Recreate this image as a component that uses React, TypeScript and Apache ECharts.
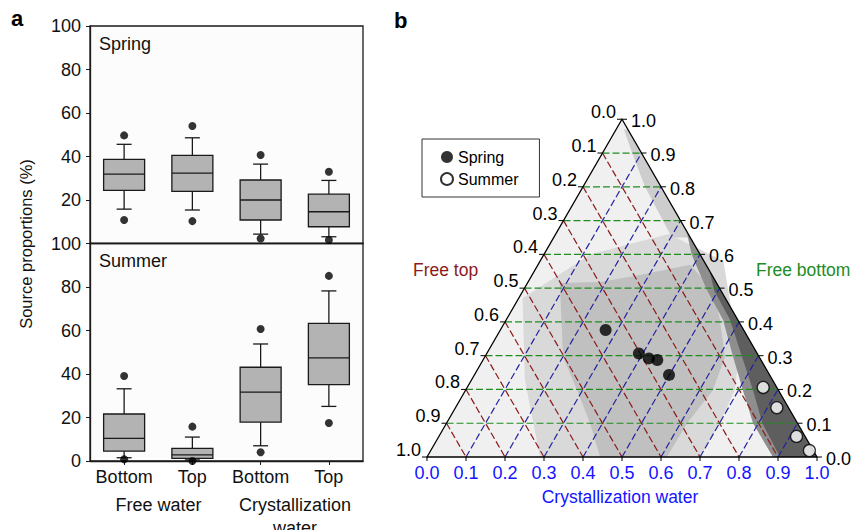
import React, { useEffect, useRef } from 'react';
import * as echarts from 'echarts';

// ---------- Panel a data ----------
const categoryKeys = ['FW-Bottom', 'FW-Top', 'CW-Bottom', 'CW-Top'];
const categoryLabels = ['Bottom', 'Top', 'Bottom', 'Top'];
const groupLabels = ['Free water', 'Crystallization\nwater'];
const yTicksA = [0, 20, 40, 60, 80, 100];
// [lower whisker, Q1, median, Q3, upper whisker]
const springBoxes = [
  [15.8, 24.4, 31.9, 38.7, 45.6],
  [15.4, 24.0, 32.4, 40.5, 48.6],
  [4.3, 10.8, 20.0, 29.2, 36.5],
  [3.1, 7.7, 14.6, 22.7, 29.0],
];
const springOutliers = [
  [0, 49.7], [0, 10.8], [1, 54.0], [1, 10.3], [2, 40.7], [2, 2.3], [3, 33.0], [3, 1.6],
];
const summerBoxes = [
  [1.5, 4.5, 10.4, 21.6, 33.2],
  [0.5, 1.2, 2.8, 5.8, 11.0],
  [7.0, 17.9, 31.7, 43.1, 53.8],
  [25.1, 35.1, 47.4, 63.3, 78.2],
];
const summerOutliers = [
  [0, 39.1], [0, 0.8], [1, 15.8], [1, 0.0], [2, 60.7], [2, 4.0], [3, 85.1], [3, 17.5],
];

// ---------- Panel b data (ternary: [crystallization water, free bottom]) ----------
const springPoints = [
  [0.270, 0.376], [0.390, 0.3065], [0.423, 0.292], [0.447, 0.287], [0.499, 0.243],
];
const summerPoints = [
  [0.759, 0.206], [0.824, 0.146], [0.917, 0.061], [0.971, 0.019],
];
const ternTicks = [0, 0.1, 0.2, 0.3, 0.4, 0.5, 0.6, 0.7, 0.8, 0.9, 1.0];
const ternTickLabels = ['0.0', '0.1', '0.2', '0.3', '0.4', '0.5', '0.6', '0.7', '0.8', '0.9', '1.0'];
const gridLevels = [0.1, 0.2, 0.3, 0.4, 0.5, 0.6, 0.7, 0.8, 0.9];
// density regions of the simulated source-mixing cloud
const cloudBase = [[0, 0], [1, 0], [0, 1]];
const cloudMedium = [
  [0.01, 0.47], [0.137, 0.228], [0.29, 0], [0.70, 0], [0.70, 0.1], [0.69, 0.198],
  [0.65, 0.3], [0.56, 0.44], [0.47, 0.58], [0.29, 0.66], [0.12, 0.60],
];
const cloudDense = [
  [0.083, 0.515], [0.201, 0.296], [0.286, 0.198], [0.368, 0.1], [0.444, 0], [0.615, 0],
  [0.617, 0.1], [0.634, 0.198], [0.616, 0.296], [0.548, 0.406], [0.486, 0.494],
  [0.39, 0.569], [0.276, 0.539], [0.185, 0.518],
];
const cloudEdgeTop = [
  [0.303, 0.65], [0.159, 0.8], [0.076, 0.9], [0.02, 0.97], [0.03, 0.97], [0.1, 0.9],
  [0.2, 0.8], [0.35, 0.65],
];
const cloudDarkOuter = [
  [0.887, 0], [0.786, 0.1], [0.711, 0.198], [0.637, 0.296], [0.556, 0.406], [0.471, 0.494],
  [0.38, 0.598], [0.33, 0.67], [1, 0],
];
const cloudDarkInner = [
  [0.905, 0], [0.81, 0.1], [0.737, 0.198], [0.66, 0.296], [0.574, 0.406], [0.489, 0.494],
  [0.45, 0.55], [1, 0],
];
const cloudRegions = [cloudBase, cloudMedium, cloudDense, cloudEdgeTop, cloudDarkOuter, cloudDarkInner];
const cloudFills = ['#f0f0f0', '#d9d9d9', '#c0c0c0', '#cdcdcd', '#8e8e8e', '#5e5e5e'];

const SQ = Math.sqrt(3) / 2;
const tern = (c: number, b: number) => [c + b / 2, b * SQ];
const FONT = '"Liberation Sans", Arial, Helvetica, sans-serif';

const txt = (text: string, x: number, y: number, size: number, fill: string, align: string, valign: string, extra: any = {}) => ({
  type: 'text',
  x,
  y,
  ...extra,
  style: {
    text,
    fill,
    fontSize: size,
    fontFamily: FONT,
    align,
    verticalAlign: valign,
    textAlign: align,
    textVerticalAlign: valign,
    ...(extra.style || {}),
  },
});

const boxRender = (params: any, api: any) => {
  const i = api.value(0);
  const mn = api.value(1), q1 = api.value(2), md = api.value(3), q3 = api.value(4), mx = api.value(5);
  const xc = api.coord([i, md])[0];
  const y = (v: number) => api.coord([i, v])[1];
  const hw = 20.5, cw = 7.5;
  const ls = { stroke: '#1a1a1a', lineWidth: 1.3 };
  return {
    type: 'group',
    children: [
      { type: 'line', shape: { x1: xc, y1: y(mx), x2: xc, y2: y(q3) }, style: ls },
      { type: 'line', shape: { x1: xc, y1: y(q1), x2: xc, y2: y(mn) }, style: ls },
      { type: 'line', shape: { x1: xc - cw, y1: y(mx), x2: xc + cw, y2: y(mx) }, style: ls },
      { type: 'line', shape: { x1: xc - cw, y1: y(mn), x2: xc + cw, y2: y(mn) }, style: ls },
      {
        type: 'rect',
        shape: { x: xc - hw, y: y(q3), width: 2 * hw, height: y(q1) - y(q3) },
        style: { fill: '#b3b3b3', stroke: '#1a1a1a', lineWidth: 1.3 },
      },
      { type: 'line', shape: { x1: xc - hw, y1: y(md), x2: xc + hw, y2: y(md) }, style: ls },
    ],
  };
};

const boxGridA = (top: number) => ({
  left: 90, top, width: 273, height: 217.5, show: true,
  borderColor: '#1a1a1a', borderWidth: 1.3, backgroundColor: '#fcfcfc',
});

const yAxisA = (gridIndex: number, hideZero: boolean) => ({
  type: 'value', gridIndex, min: yTicksA[0], max: yTicksA[yTicksA.length - 1], interval: 20,
  axisLine: { show: true, lineStyle: { color: '#1a1a1a', width: 1.3 } },
  axisTick: { show: true, length: 4, lineStyle: { color: '#1a1a1a' } },
  axisLabel: {
    fontSize: 18, fontFamily: FONT, color: '#111', margin: 9,
    formatter: (v: number) => (hideZero && v === 0 ? '' : String(v)),
  },
  splitLine: { show: false },
});

const toPx = (api: any, c: number, b: number) => api.coord(tern(c, b));

const option: any = {
  animation: false,
  backgroundColor: '#ffffff',
  legend: {
    data: ['Spring', 'Summer'],
    orient: 'vertical',
    left: 422,
    top: 139,
    padding: [10, 21, 10, 18],
    itemGap: 6,
    itemWidth: 12,
    itemHeight: 12,
    icon: 'circle',
    borderColor: '#333',
    borderWidth: 1,
    backgroundColor: '#fff',
    selectedMode: false,
    textStyle: { fontSize: 16, fontFamily: FONT, color: '#000' },
  },
  grid: [
    boxGridA(26),
    boxGridA(243.5),
    { left: 427, top: 457 - 390 * SQ, width: 390, height: 390 * SQ, show: false },
  ],
  xAxis: [
    {
      type: 'category', gridIndex: 0, data: categoryKeys,
      axisLine: { show: true, lineStyle: { color: '#1a1a1a', width: 1.3 } },
      axisTick: { show: false }, axisLabel: { show: false },
    },
    {
      type: 'category', gridIndex: 1, data: categoryKeys,
      axisLine: { show: true, lineStyle: { color: '#1a1a1a', width: 1.3 } },
      axisTick: { show: true, alignWithLabel: true, length: 4, lineStyle: { color: '#1a1a1a' } },
      axisLabel: {
        fontSize: 18, fontFamily: FONT, color: '#111', margin: 7, interval: 0,
        formatter: (_v: string, i: number) => categoryLabels[i],
      },
    },
    { type: 'value', gridIndex: 2, min: 0, max: 1, show: false },
  ],
  yAxis: [
    yAxisA(0, true),
    yAxisA(1, false),
    { type: 'value', gridIndex: 2, min: 0, max: SQ, show: false },
  ],
  graphic: [
    txt('a', 11, 18, 22, '#000', 'left', 'middle', { style: { fontWeight: 'bold' } }),
    txt('b', 394, 20, 22, '#000', 'left', 'middle', { style: { fontWeight: 'bold' } }),
    txt('Spring', 99, 44, 18, '#111', 'left', 'middle'),
    txt('Summer', 99, 261, 18, '#111', 'left', 'middle'),
    txt('Source proportions (%)', 26, 244, 16.5, '#111', 'center', 'middle', { rotation: Math.PI / 2 }),
    txt(groupLabels[0], 158.5, 505, 18, '#111', 'center', 'middle'),
    txt(groupLabels[1], 295, 516, 18, '#111', 'center', 'middle', { style: { lineHeight: 23 } }),
    txt('Free top', 413, 270, 17.5, '#8b1a1a', 'left', 'middle'),
    txt('Free bottom', 756, 270, 17.5, '#1e8c1e', 'left', 'middle'),
    txt('Crystallization water', 620, 497, 17.5, '#1414ff', 'center', 'middle'),
  ],
  series: [
    {
      type: 'custom', name: 'spring-box', xAxisIndex: 0, yAxisIndex: 0, silent: true,
      encode: { x: 0, y: [1, 2, 3, 4, 5] },
      data: springBoxes.map((b, i) => [i, ...b]),
      renderItem: boxRender,
    },
    {
      type: 'scatter', name: 'spring-outliers', xAxisIndex: 0, yAxisIndex: 0, silent: true,
      symbolSize: 8, itemStyle: { color: '#000' }, data: springOutliers,
    },
    {
      type: 'custom', name: 'summer-box', xAxisIndex: 1, yAxisIndex: 1, silent: true,
      encode: { x: 0, y: [1, 2, 3, 4, 5] },
      data: summerBoxes.map((b, i) => [i, ...b]),
      renderItem: boxRender,
    },
    {
      type: 'scatter', name: 'summer-outliers', xAxisIndex: 1, yAxisIndex: 1, silent: true,
      symbolSize: 8, itemStyle: { color: '#000' }, data: summerOutliers,
    },
    // ternary cloud regions
    {
      type: 'custom', name: 'cloud', xAxisIndex: 2, yAxisIndex: 2, silent: true,
      data: cloudRegions.map((_r, i) => [i, 0]),
      renderItem: (params: any, api: any) => {
        const region = cloudRegions[params.dataIndex];
        return {
          type: 'polygon',
          shape: { points: region.map(([c, b]) => toPx(api, c, b)) },
          style: { fill: cloudFills[params.dataIndex] },
        };
      },
    },
    // ternary dashed grid lines
    {
      type: 'custom', name: 'ternary-grid', xAxisIndex: 2, yAxisIndex: 2, silent: true,
      data: gridLevels.map((k) => [k, 0]),
      renderItem: (params: any, api: any) => {
        const k = gridLevels[params.dataIndex];
        const dash = [7, 3];
        const seg = (p: number[], q: number[], stroke: string) => ({
          type: 'line',
          shape: { x1: p[0], y1: p[1], x2: q[0], y2: q[1] },
          style: { stroke, lineWidth: 1.2, lineDash: dash },
        });
        return {
          type: 'group',
          children: [
            // free top = k (red)
            seg(toPx(api, 0, 1 - k), toPx(api, 1 - k, 0), '#8b1a1a'),
            // crystallization = k (blue)
            seg(toPx(api, k, 0), toPx(api, k, 1 - k), '#2323a0'),
            // free bottom = k (green)
            seg(toPx(api, 0, k), toPx(api, 1 - k, k), '#1e8c1e'),
          ],
        };
      },
    },
    // triangle outline, ticks and tick labels
    {
      type: 'custom', name: 'ternary-axes', xAxisIndex: 2, yAxisIndex: 2, silent: true,
      data: ternTicks.map((k) => [k, 0]),
      renderItem: (params: any, api: any) => {
        const k = ternTicks[params.dataIndex];
        const lab = ternTickLabels[params.dataIndex];
        const L = toPx(api, 0, 1 - k); // left edge: free top = k
        const R = toPx(api, 1 - k, k); // right edge: free bottom = k
        const B = toPx(api, k, 0); // bottom edge: crystallization = k
        const tick = { stroke: '#000', lineWidth: 1 };
        const children: any[] = [
          { type: 'line', shape: { x1: L[0], y1: L[1], x2: L[0] - 5, y2: L[1] }, style: tick },
          { type: 'line', shape: { x1: R[0], y1: R[1], x2: R[0] + 5, y2: R[1] }, style: tick },
          { type: 'line', shape: { x1: B[0], y1: B[1], x2: B[0], y2: B[1] + 4 }, style: tick },
          txt(lab, L[0] - 6, L[1] - 7, 18, '#000', 'right', 'middle'),
          txt(lab, R[0] + 9, R[1] + 2, 18, '#000', 'left', 'middle'),
          txt(lab, B[0], B[1] + 16, 18, '#1414ff', 'center', 'middle'),
        ];
        if (params.dataIndex === 0) {
          const A = toPx(api, 0, 0), Bv = toPx(api, 1, 0), C = toPx(api, 0, 1);
          children.unshift({
            type: 'polygon', shape: { points: [A, Bv, C] },
            style: { fill: 'none', stroke: '#000', lineWidth: 1.3 },
          });
        }
        return { type: 'group', children };
      },
    },
    {
      type: 'scatter', name: 'Spring', xAxisIndex: 2, yAxisIndex: 2, silent: true,
      symbol: 'circle', symbolSize: 12, itemStyle: { color: '#000' },
      data: springPoints.map(([c, b]) => tern(c, b)),
      z: 5,
    },
    {
      type: 'scatter', name: 'Summer', xAxisIndex: 2, yAxisIndex: 2, silent: true,
      symbol: 'circle', symbolSize: 12,
      itemStyle: { color: '#fff', borderColor: '#000', borderWidth: 1.3 },
      data: summerPoints.map(([c, b]) => tern(c, b)),
      z: 5,
    },
  ],
};

export default function App() {
  const ref = useRef<HTMLDivElement>(null);
  useEffect(() => {
    document.body.style.margin = '0';
    const chart = echarts.init(ref.current!, null, { renderer: 'svg' });
    chart.setOption(option);
    return () => chart.dispose();
  }, []);
  return <div ref={ref} style={{ width: 857, height: 530 }} />;
}
